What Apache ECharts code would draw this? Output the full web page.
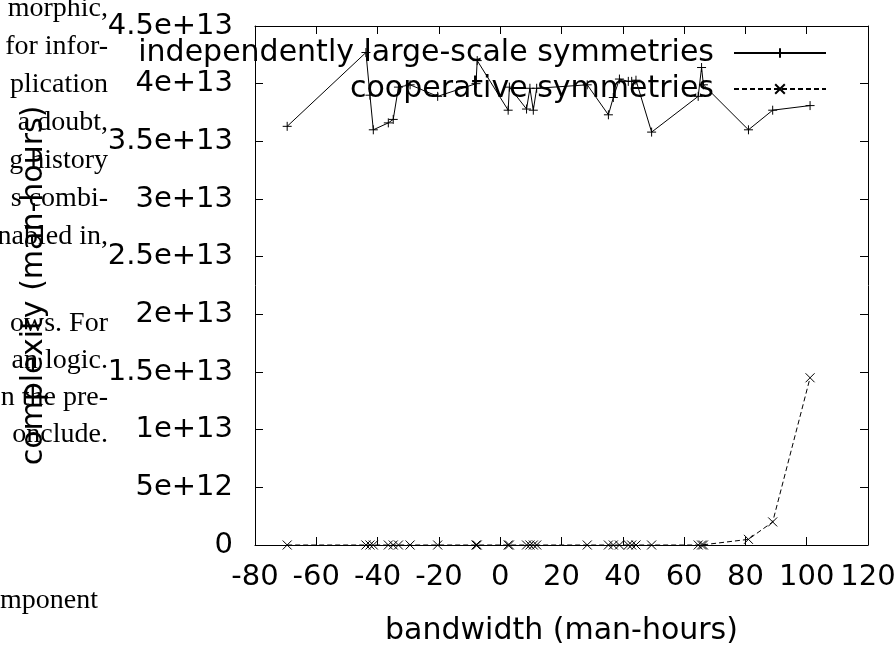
<!DOCTYPE html>
<html>
<head>
<meta charset="utf-8">
<script src="https://cdn.jsdelivr.net/npm/echarts@6/dist/echarts.min.js"></script>
<style>
html, body { margin: 0; padding: 0; background: #fff; }
#chart { width: 894px; height: 648px; }
</style>
</head>
<body>
<div id="chart"></div>
<script>
// bandwidth (man-hours), same x for both curves
var bandwidth = [-69.5, -43.8, -42.5, -41.4, -36.5, -34.9, -33.2, -29.4, -20.4, -7.9, -7.5,
  2.6, 3.0, 8.6, 9.7, 10.8, 11.9, 28.4, 35.3, 36.9, 38.9, 41.8, 42.9, 44.3, 49.4,
  64.6, 65.7, 66.3, 81.0, 88.9, 101.1];
// complexity, in units of 1e13
var largeScale = [3.63, 4.27, 3.9, 3.6, 3.66, 3.69, 3.97, 3.99, 3.89, 4.0, 4.2,
  3.77, 3.97, 3.78, 3.96, 3.77, 3.96, 3.99, 3.73, 3.88, 4.04, 4.02, 4.02, 4.03, 3.58,
  3.89, 4.14, 3.99, 3.6, 3.77, 3.81];
var cooperative = [0, 0, 0, 0, 0, 0, 0, 0, 0, 0, 0,
  0, 0, 0, 0, 0, 0, 0, 0, 0, 0, 0, 0, 0, 0,
  0, 0, 0, 0.049, 0.2, 1.45];
var seriesNames = ['independently large-scale symmetries', 'cooperative symmetries'];
var yTickLabels = ['0', '5e+12', '1e+13', '1.5e+13', '2e+13', '2.5e+13', '3e+13', '3.5e+13', '4e+13', '4.5e+13'];
// bits of the paper page that sit behind the figure
var pageTop = ['morphic,', 'for infor-', 'plication', 'a doubt,', 'g history', 's combi-', 'nabled in,'];
var pageBottom = ['ows. For', 'an logic.', 'n the pre-', 'onclude.'];

function pairs(ys) {
  return bandwidth.map(function (x, i) { return [x, ys[i] * 1e13]; });
}

var chart = echarts.init(document.getElementById('chart'));
var font = 'DejaVu Sans';
var plus = 'path://M0,5L10,5M5,0L5,10';
var cross = 'path://M0,0L10,10M10,0L0,10';

var page = [];
pageTop.forEach(function (t, i) {
  page.push({ type: 'text', x: 108, y: 23 + i * 38, z: 0,
    style: { text: t, font: '28px "Liberation Serif"', fill: '#000', textAlign: 'right', textVerticalAlign: 'bottom' } });
});
pageBottom.forEach(function (t, i) {
  page.push({ type: 'text', x: 108, y: 338 + i * 37, z: 0,
    style: { text: t, font: '28px "Liberation Serif"', fill: '#000', textAlign: 'right', textVerticalAlign: 'bottom' } });
});
page.push({ type: 'text', x: 0, y: 615, z: 0,
  style: { text: 'mponent', font: '28px "Liberation Serif"', fill: '#000', textAlign: 'left', textVerticalAlign: 'bottom' } });

var tickStyle = { show: true, inside: true, length: 8, lineStyle: { color: '#000', width: 1 } };
var lineAx = { show: true, onZero: false, lineStyle: { color: '#000', width: 1 } };

var option = {
  animation: false,
  backgroundColor: '#fff',
  textStyle: { fontFamily: font },
  graphic: page,
  grid: { left: 255, right: 26, top: 26, bottom: 103, containLabel: false, outerBoundsMode: 'none' },
  legend: {
    orient: 'vertical',
    right: 67,
    top: 38,
    padding: 0,
    align: 'right',
    itemWidth: 92,
    itemHeight: 12,
    itemGap: 6,
    data: seriesNames,
    textStyle: { fontFamily: font, fontSize: 30, color: '#000', lineHeight: 30, padding: [0, 15, 0, 0] }
  },
  xAxis: [{
    type: 'value', min: -80, max: 120, interval: 20, position: 'bottom',
    axisLine: lineAx, axisTick: tickStyle, splitLine: { show: false },
    axisLabel: { fontFamily: font, fontSize: 29, color: '#000', margin: 18 },
    name: 'bandwidth (man-hours)', nameLocation: 'middle', nameGap: 71,
    nameTextStyle: { fontFamily: font, fontSize: 30, color: '#000' }
  }, {
    type: 'value', min: -80, max: 120, interval: 20, position: 'top',
    axisLine: lineAx, axisTick: tickStyle, splitLine: { show: false }, axisLabel: { show: false }
  }],
  yAxis: [{
    type: 'value', min: 0, max: 4.5e13, interval: 5e12, position: 'left',
    axisLine: lineAx, axisTick: tickStyle, splitLine: { show: false },
    axisLabel: {
      fontFamily: font, fontSize: 29, color: '#000', margin: 22,
      formatter: function (v) { return yTickLabels[Math.round(v / 5e12)]; }
    },
    name: 'complexity (man-hours)', nameLocation: 'middle', nameRotate: 90, nameGap: 206,
    nameTextStyle: { fontFamily: font, fontSize: 30, color: '#000' }
  }, {
    type: 'value', min: 0, max: 4.5e13, interval: 5e12, position: 'right',
    axisLine: lineAx, axisTick: tickStyle, splitLine: { show: false }, axisLabel: { show: false }
  }],
  series: [{
    name: seriesNames[0],
    type: 'line',
    data: pairs(largeScale),
    symbol: plus,
    symbolSize: 9,
    itemStyle: { color: '#000', borderColor: '#000', borderWidth: 1 },
    lineStyle: { color: '#000', width: 1 }
  }, {
    name: seriesNames[1],
    type: 'line',
    data: pairs(cooperative),
    symbol: cross,
    symbolSize: 9,
    itemStyle: { color: '#000', borderColor: '#000', borderWidth: 1 },
    lineStyle: { color: '#000', width: 1, type: [5, 3] }
  }]
};
chart.setOption(option);
</script>
</body>
</html>
